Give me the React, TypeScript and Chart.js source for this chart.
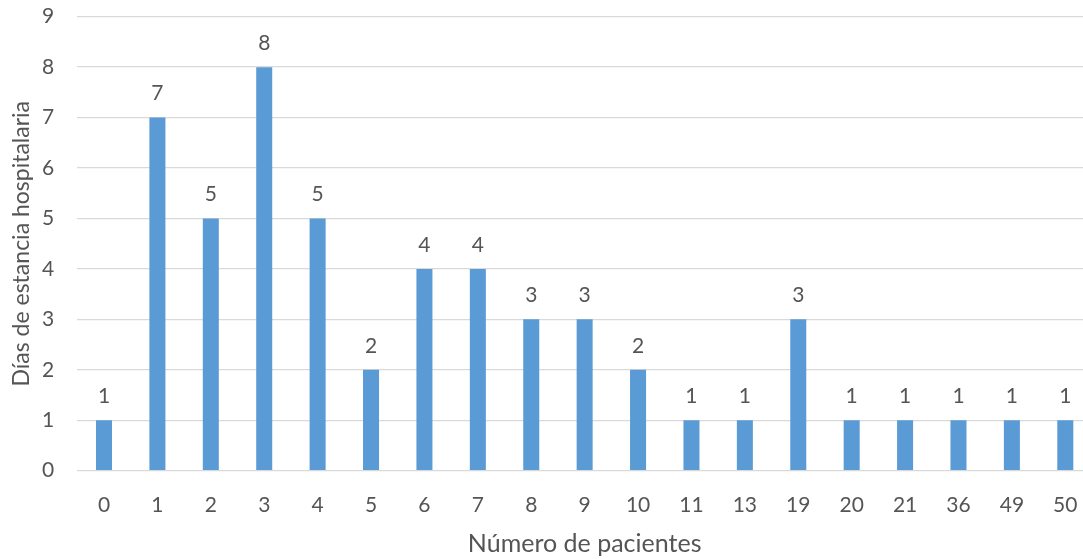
import React, { useEffect, useRef } from "react";
import { Chart, registerables } from "chart.js";

Chart.register(...registerables);

const categories = ["0", "1", "2", "3", "4", "5", "6", "7", "8", "9", "10", "11", "13", "19", "20", "21", "36", "49", "50"];
const stayDays = [1, 7, 5, 8, 5, 2, 4, 4, 3, 3, 2, 1, 1, 3, 1, 1, 1, 1, 1];
const yTicks = [0, 1, 2, 3, 4, 5, 6, 7, 8, 9];

const xTitle = "Número de pacientes";
const yTitle = "Días de estancia hospitalaria";

const FONT = "Lato, 'Open Sans', sans-serif";
const TEXT = "#555555";
const BAR = "#5B9BD5";
const GRID = "#D9D9D9";

// Writes each bar's value just above it
const valueLabels = {
  id: "valueLabels",
  afterDatasetsDraw(chart: any) {
    const ctx = chart.ctx;
    const meta = chart.getDatasetMeta(0);
    const values = chart.data.datasets[0].data as number[];
    ctx.save();
    ctx.fillStyle = TEXT;
    ctx.font = `21px ${FONT}`;
    ctx.textAlign = "center";
    ctx.textBaseline = "middle";
    meta.data.forEach((bar: any, i: number) => {
      ctx.fillText(String(values[i]), bar.x, bar.y - 24);
    });
    ctx.restore();
  },
};

export default function App() {
  const canvasRef = useRef<HTMLCanvasElement>(null);

  useEffect(() => {
    if (!canvasRef.current) return;
    const chart = new Chart(canvasRef.current, {
      type: "bar",
      data: {
        labels: categories,
        datasets: [
          {
            data: stayDays,
            backgroundColor: BAR,
            borderWidth: 0,
            barPercentage: 0.3,
            categoryPercentage: 1,
          },
        ],
      },
      options: {
        animation: false,
        responsive: false,
        devicePixelRatio: 1,
        layout: { padding: { top: 16.7, right: 0, left: 0, bottom: 0 } },
        plugins: {
          legend: { display: false },
          tooltip: { enabled: false },
        },
        scales: {
          x: {
            grid: { display: false },
            border: { display: false },
            ticks: { color: TEXT, font: { family: FONT, size: 21 }, padding: 14 },
            title: {
              display: true,
              text: xTitle,
              color: TEXT,
              font: { family: FONT, size: 25 },
              padding: { top: 4, bottom: 0 },
            },
            afterFit(scale: any) {
              scale.height = 88.3;
              scale.paddingLeft = 0;
              scale.paddingRight = 0;
            },
          },
          y: {
            min: 0,
            max: 9,
            afterBuildTicks(scale: any) {
              scale.ticks = yTicks.map((v) => ({ value: v }));
            },
            grid: { color: GRID, lineWidth: 1.3, drawTicks: false },
            border: { display: false },
            ticks: { color: TEXT, font: { family: FONT, size: 21 }, padding: 23 },
            title: {
              display: true,
              text: yTitle,
              color: TEXT,
              font: { family: FONT, size: 23 },
              padding: { top: 8, bottom: 0 },
            },
            afterFit(scale: any) {
              scale.width = 77.3;
              scale.paddingTop = 0;
              scale.paddingBottom = 0;
            },
          },
        },
      },
      plugins: [valueLabels],
    });
    return () => chart.destroy();
  }, []);

  return (
    <div style={{ position: "fixed", left: 0, top: 0, width: 1083, height: 559, overflow: "hidden", background: "#fff" }}>
      <canvas ref={canvasRef} width={1092} height={559} />
    </div>
  );
}
